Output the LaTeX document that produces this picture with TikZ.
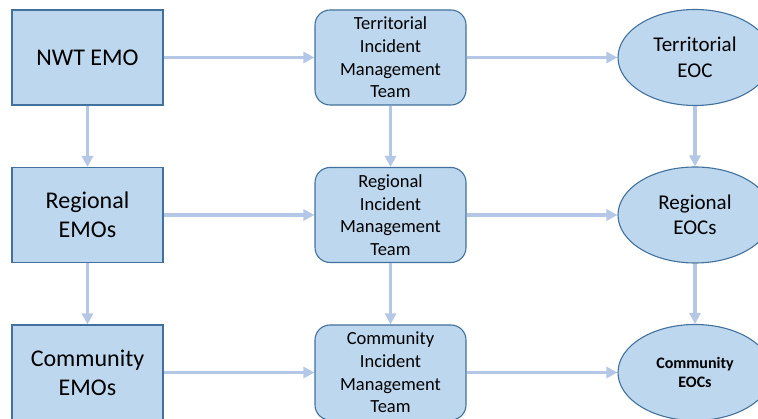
\documentclass[tikz,border=0pt]{standalone}
\usepackage{fontspec}
\setmainfont{Carlito}
\usetikzlibrary{shapes.geometric,arrows.meta}
\definecolor{boxfill}{HTML}{BDD7EE}
\definecolor{boxline}{HTML}{41719C}
\definecolor{arrowc}{HTML}{B4C7E7}
\tikzset{
  base/.style={fill=boxfill, draw=boxline, line width=1.1pt, align=center, inner sep=0pt, text=black},
  sqbox/.style={base, rectangle, minimum width=151pt, minimum height=95pt, font=\fontsize{24}{29.3}\selectfont},
  rbox/.style={base, rectangle, rounded corners=15pt, minimum width=151pt, minimum height=95pt, font=\fontsize{18.5}{22.6}\selectfont},
  ebox/.style={base, ellipse, minimum width=154pt, minimum height=96pt, font=\fontsize{21}{25.5}\selectfont},
  flow/.style={draw=arrowc, line width=3.5pt, -{Triangle[length=11pt,width=11pt]}}
}
\begin{document}
\begin{tikzpicture}[x=1pt,y=-1pt]
\useasboundingbox (0,0) rectangle (758,419);
\clip (0,0) rectangle (758,419);
\fill[white] (0,0) rectangle (758,419);
% left column
\node[sqbox] (nwt) at (87.5,57.5) {NWT EMO};
\node[sqbox] (reg) at (87.5,215) {Regional\\EMOs};
\node[sqbox] (com) at (87.5,372.5) {Community\\EMOs};
% middle column
\node[rbox] (timt) at (390.5,57.5) {Territorial\\Incident\\Management\\Team};
\node[rbox] (rimt) at (390.5,215) {Regional\\Incident\\Management\\Team};
\node[rbox] (cimt) at (390.5,372.5) {Community\\Incident\\Management\\Team};
% right column
\node[ebox] (teoc) at (695,57.5) {Territorial\\EOC};
\node[ebox] (reoc) at (695,215) {Regional\\EOCs};
\node[ebox, font=\fontsize{16}{19.5}\selectfont\bfseries] (ceoc) at (695,372.5) {Community\\EOCs};
% horizontal arrows
\draw[flow] (nwt.east) -- (timt.west);
\draw[flow] (timt.east) -- (teoc.west);
\draw[flow] (reg.east) -- (rimt.west);
\draw[flow] (rimt.east) -- (reoc.west);
\draw[flow] (com.east) -- (cimt.west);
\draw[flow] (cimt.east) -- (ceoc.west);
% vertical arrows
\draw[flow] (nwt.south) -- (reg.north);
\draw[flow] (reg.south) -- (com.north);
\draw[flow] (timt.south) -- (rimt.north);
\draw[flow] (rimt.south) -- (cimt.north);
\draw[flow] (teoc.south) -- (reoc.north);
\draw[flow] (reoc.south) -- (ceoc.north);
\end{tikzpicture}
\end{document}
